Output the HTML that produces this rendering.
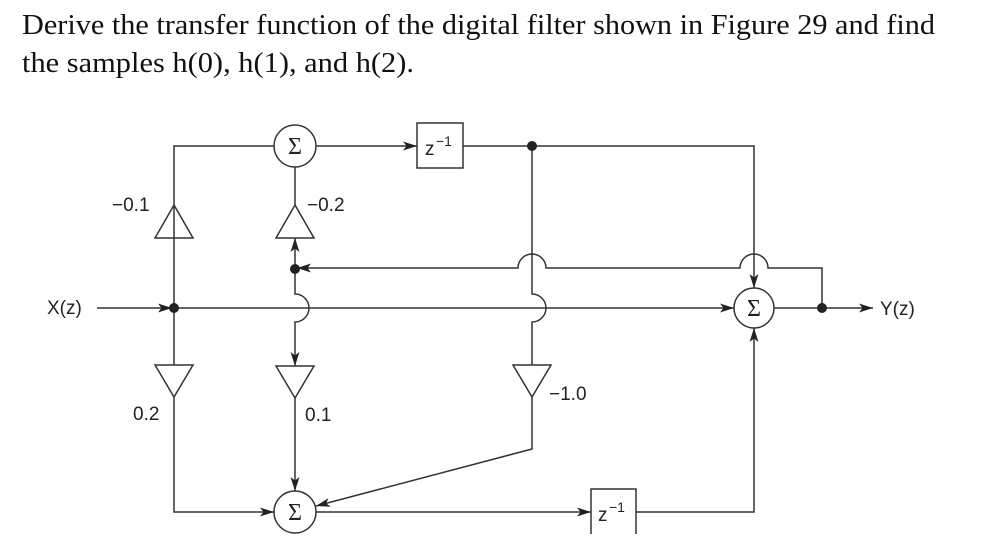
<!DOCTYPE html>
<html><head><meta charset="utf-8"><style>
body{margin:0;background:#fff;width:989px;height:551px;overflow:hidden}
svg{display:block}
</style></head><body>
<svg width="989" height="551" viewBox="0 0 989 551" xmlns="http://www.w3.org/2000/svg">
<defs>
<marker id="a" viewBox="0 0 14 9" refX="14" refY="4.5" markerWidth="14" markerHeight="9" markerUnits="userSpaceOnUse" orient="auto">
<path d="M0,0 L14,4.5 L0,9 L3.5,4.5 Z" fill="#222"/>
</marker>
</defs>
<g font-family="Liberation Serif, serif" font-size="28" fill="#111">
<text x="22" y="34" textLength="913" lengthAdjust="spacingAndGlyphs">Derive the transfer function of the digital filter shown in Figure 29 and find</text>
<text x="22" y="72" textLength="392" lengthAdjust="spacingAndGlyphs">the samples h(0), h(1), and h(2).</text>
</g>
<g stroke="#333" stroke-width="1.5" fill="none">
<!-- top line -->
<path d="M174,238 V146 H274"/>
<path d="M316,146 H417" marker-end="url(#a)"/>
<rect x="417" y="123" width="46" height="45" fill="#fff"/>
<path d="M463,146 H754 V288" marker-end="url(#a)"/>
<!-- left branch -->
<polygon points="174,205 155,238 193,238"/>
<polygon points="155,365 193,365 174,397"/>
<path d="M174,238 V365"/>
<path d="M174,397 V512 H274" marker-end="url(#a)"/>
<!-- input -->
<path d="M97,308 H172" marker-end="url(#a)"/>
<path d="M174,308 H734" marker-end="url(#a)"/>
<!-- middle branch -->
<path d="M295,167 V205"/>
<polygon points="295,205 276,238 314,238"/>
<path d="M295,269 V238" marker-end="url(#a)"/>
<path d="M295,269 V294 A14,14 0 0 1 295,322 V366" marker-end="url(#a)"/>
<polygon points="276,366 314,366 295,398"/>
<path d="M295,398 V491" marker-end="url(#a)"/>
<!-- feedback line -->
<path d="M822,308 V268 H768 A14,14 0 0 0 740,268 H546 A14,14 0 0 0 518,268 H297" marker-end="url(#a)"/>
<!-- right vertical -->
<path d="M532,146 V294 A14,14 0 0 1 532,322 V365"/>
<polygon points="513,365 551,365 532,397"/>
<path d="M532,397 V449 L316,506" marker-end="url(#a)"/>
<!-- bottom -->
<path d="M316,512 H591" marker-end="url(#a)"/>
<path d="M591,534 V489 H636 V534"/>
<path d="M636,512 H754 V328" marker-end="url(#a)"/>
<!-- output -->
<path d="M774,308 H873" marker-end="url(#a)"/>
<circle cx="295" cy="146" r="21" fill="#fff"/>
<circle cx="295" cy="512" r="21" fill="#fff"/>
<circle cx="754" cy="308" r="20" fill="#fff"/>
</g>
<g fill="#222">
<circle cx="174" cy="308" r="5"/>
<circle cx="295" cy="269" r="5"/>
<circle cx="532" cy="146" r="5"/>
<circle cx="822" cy="308" r="5"/>
</g>
<g font-family="Liberation Serif, serif" font-size="24" fill="#222" text-anchor="middle">
<text x="295" y="154">Σ</text>
<text x="295" y="520">Σ</text>
<text x="754" y="316">Σ</text>
</g>
<g font-family="Liberation Sans, sans-serif" font-size="19" fill="#222">
<text x="425" y="155">z</text><text x="436" y="146" font-size="14">−1</text>
<text x="598" y="521">z</text><text x="609" y="512" font-size="14">−1</text>
<text x="47" y="314">X(z)</text>
<text x="880" y="315">Y(z)</text>
<text x="112" y="211">−0.1</text>
<text x="307" y="211">−0.2</text>
<text x="133" y="420">0.2</text>
<text x="305" y="421">0.1</text>
<text x="549" y="400">−1.0</text>
</g>
</svg>
</body></html>
